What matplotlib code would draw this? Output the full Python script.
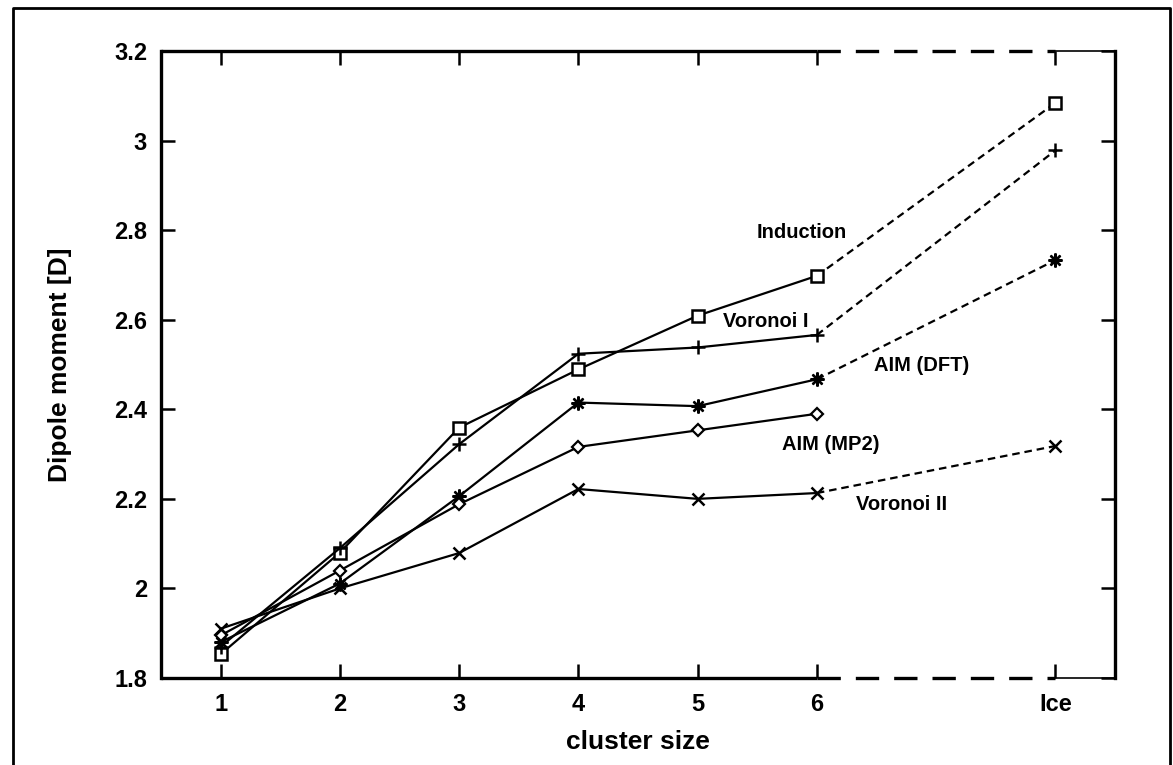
import matplotlib
matplotlib.use("Agg")
import matplotlib.pyplot as plt
from matplotlib.lines import Line2D

categories = ["1", "2", "3", "4", "5", "6", "Ice"]
cluster_sizes = [1, 2, 3, 4, 5, 6]
ice_position = 8

induction = [1.853, 2.080, 2.359, 2.489, 2.609, 2.698, 3.084]
voronoi_1 = [1.870, 2.090, 2.322, 2.524, 2.538, 2.566, 2.978]
aim_dft = [1.880, 2.011, 2.206, 2.415, 2.407, 2.467, 2.733]
aim_mp2 = [1.895, 2.040, 2.188, 2.316, 2.353, 2.390, None]
voronoi_2 = [1.910, 2.000, 2.079, 2.222, 2.200, 2.213, 2.318]

series_names = ["Induction", "Voronoi I", "AIM (DFT)", "AIM (MP2)", "Voronoi II"]
y_ticks = [1.8, 2.0, 2.2, 2.4, 2.6, 2.8, 3.0, 3.2]
y_ticklabels = ["1.8", "2", "2.2", "2.4", "2.6", "2.8", "3", "3.2"]

plt.rcParams["font.family"] = ["Liberation Sans", "DejaVu Sans"]
plt.rcParams["font.weight"] = "bold"

fig = plt.figure(figsize=(11.73, 7.65), dpi=100)
ax = fig.add_axes([161 / 1173, 1 - 678 / 765, (1115 - 161) / 1173, (678 - 51) / 765])

positions = cluster_sizes + [ice_position]

markers = [
    dict(marker="s", ms=9, mfc="white", mec="black", mew=1.8),
    dict(marker="+", ms=10, mec="black", mew=1.8),
    dict(marker=(8, 2, 0), ms=10, mec="black", mew=1.7),
    dict(marker="D", ms=6, mfc="white", mec="black", mew=1.6),
    dict(marker="x", ms=9, mec="black", mew=1.8),
]
all_series = [induction, voronoi_1, aim_dft, aim_mp2, voronoi_2]

for vals, mk in zip(all_series, markers):
    n = len(cluster_sizes)
    ax.plot(cluster_sizes, vals[:n], color="black", lw=1.6, zorder=3, **mk)
    if vals[-1] is not None:
        ax.plot([cluster_sizes[-1], ice_position], [vals[n - 1], vals[-1]],
                color="black", lw=1.6, dashes=(3.4, 2.2), zorder=2)
        ax.plot([ice_position], [vals[-1]], color="black", lw=0, zorder=3, **mk)

ax.set_xlim(0.5, 8.5)
ax.set_ylim(1.8, 3.2)
ax.set_xticks(positions)
ax.set_xticklabels(categories)
ax.set_yticks(y_ticks)
ax.set_yticklabels(y_ticklabels)

ax.tick_params(direction="in", length=10, width=1.8, labelsize=17,
               top=True, right=True, pad=10)
ax.tick_params(axis="x", pad=11)
for lbl in ax.get_xticklabels() + ax.get_yticklabels():
    lbl.set_fontweight("bold")

for side in ["left", "right"]:
    ax.spines[side].set_linewidth(2.4)
ax.spines["top"].set_visible(False)
ax.spines["bottom"].set_visible(False)

# custom top/bottom spines: solid up to 6, dashed to Ice, thin beyond
for yv in [1.8, 3.2]:
    ax.plot([0.5, 6], [yv, yv], color="black", lw=2.4, clip_on=False,
            solid_capstyle="butt", zorder=5)
    ax.plot([6, ice_position], [yv, yv], color="black", lw=2.4, clip_on=False,
            dashes=(7, 4.5), dash_capstyle="butt", zorder=5)
    ax.plot([ice_position, 8.5], [yv, yv], color="black", lw=1.2, clip_on=False,
            zorder=5)

ax.set_xlabel("cluster size", fontsize=19, fontweight="bold", labelpad=10)
ax.set_ylabel("Dipole moment [D]", fontsize=19, fontweight="bold", labelpad=30)

label_pos = [(5.874, 2.795), (5.572, 2.595), (6.88, 2.497), (6.117, 2.322), (6.713, 2.188)]
for name, (lx, ly) in zip(series_names, label_pos):
    ax.text(lx, ly, name, fontsize=14.5, fontweight="bold", ha="center", va="center")

# outer frame
x0, x1 = 13 / 1173, 1170 / 1173
y1 = 1 - 8 / 765
fig.add_artist(Line2D([x0, x0, x1, x1], [0, y1, y1, 0], transform=fig.transFigure,
                      color="black", lw=2.0))

fig.savefig("out.png", dpi=100)
